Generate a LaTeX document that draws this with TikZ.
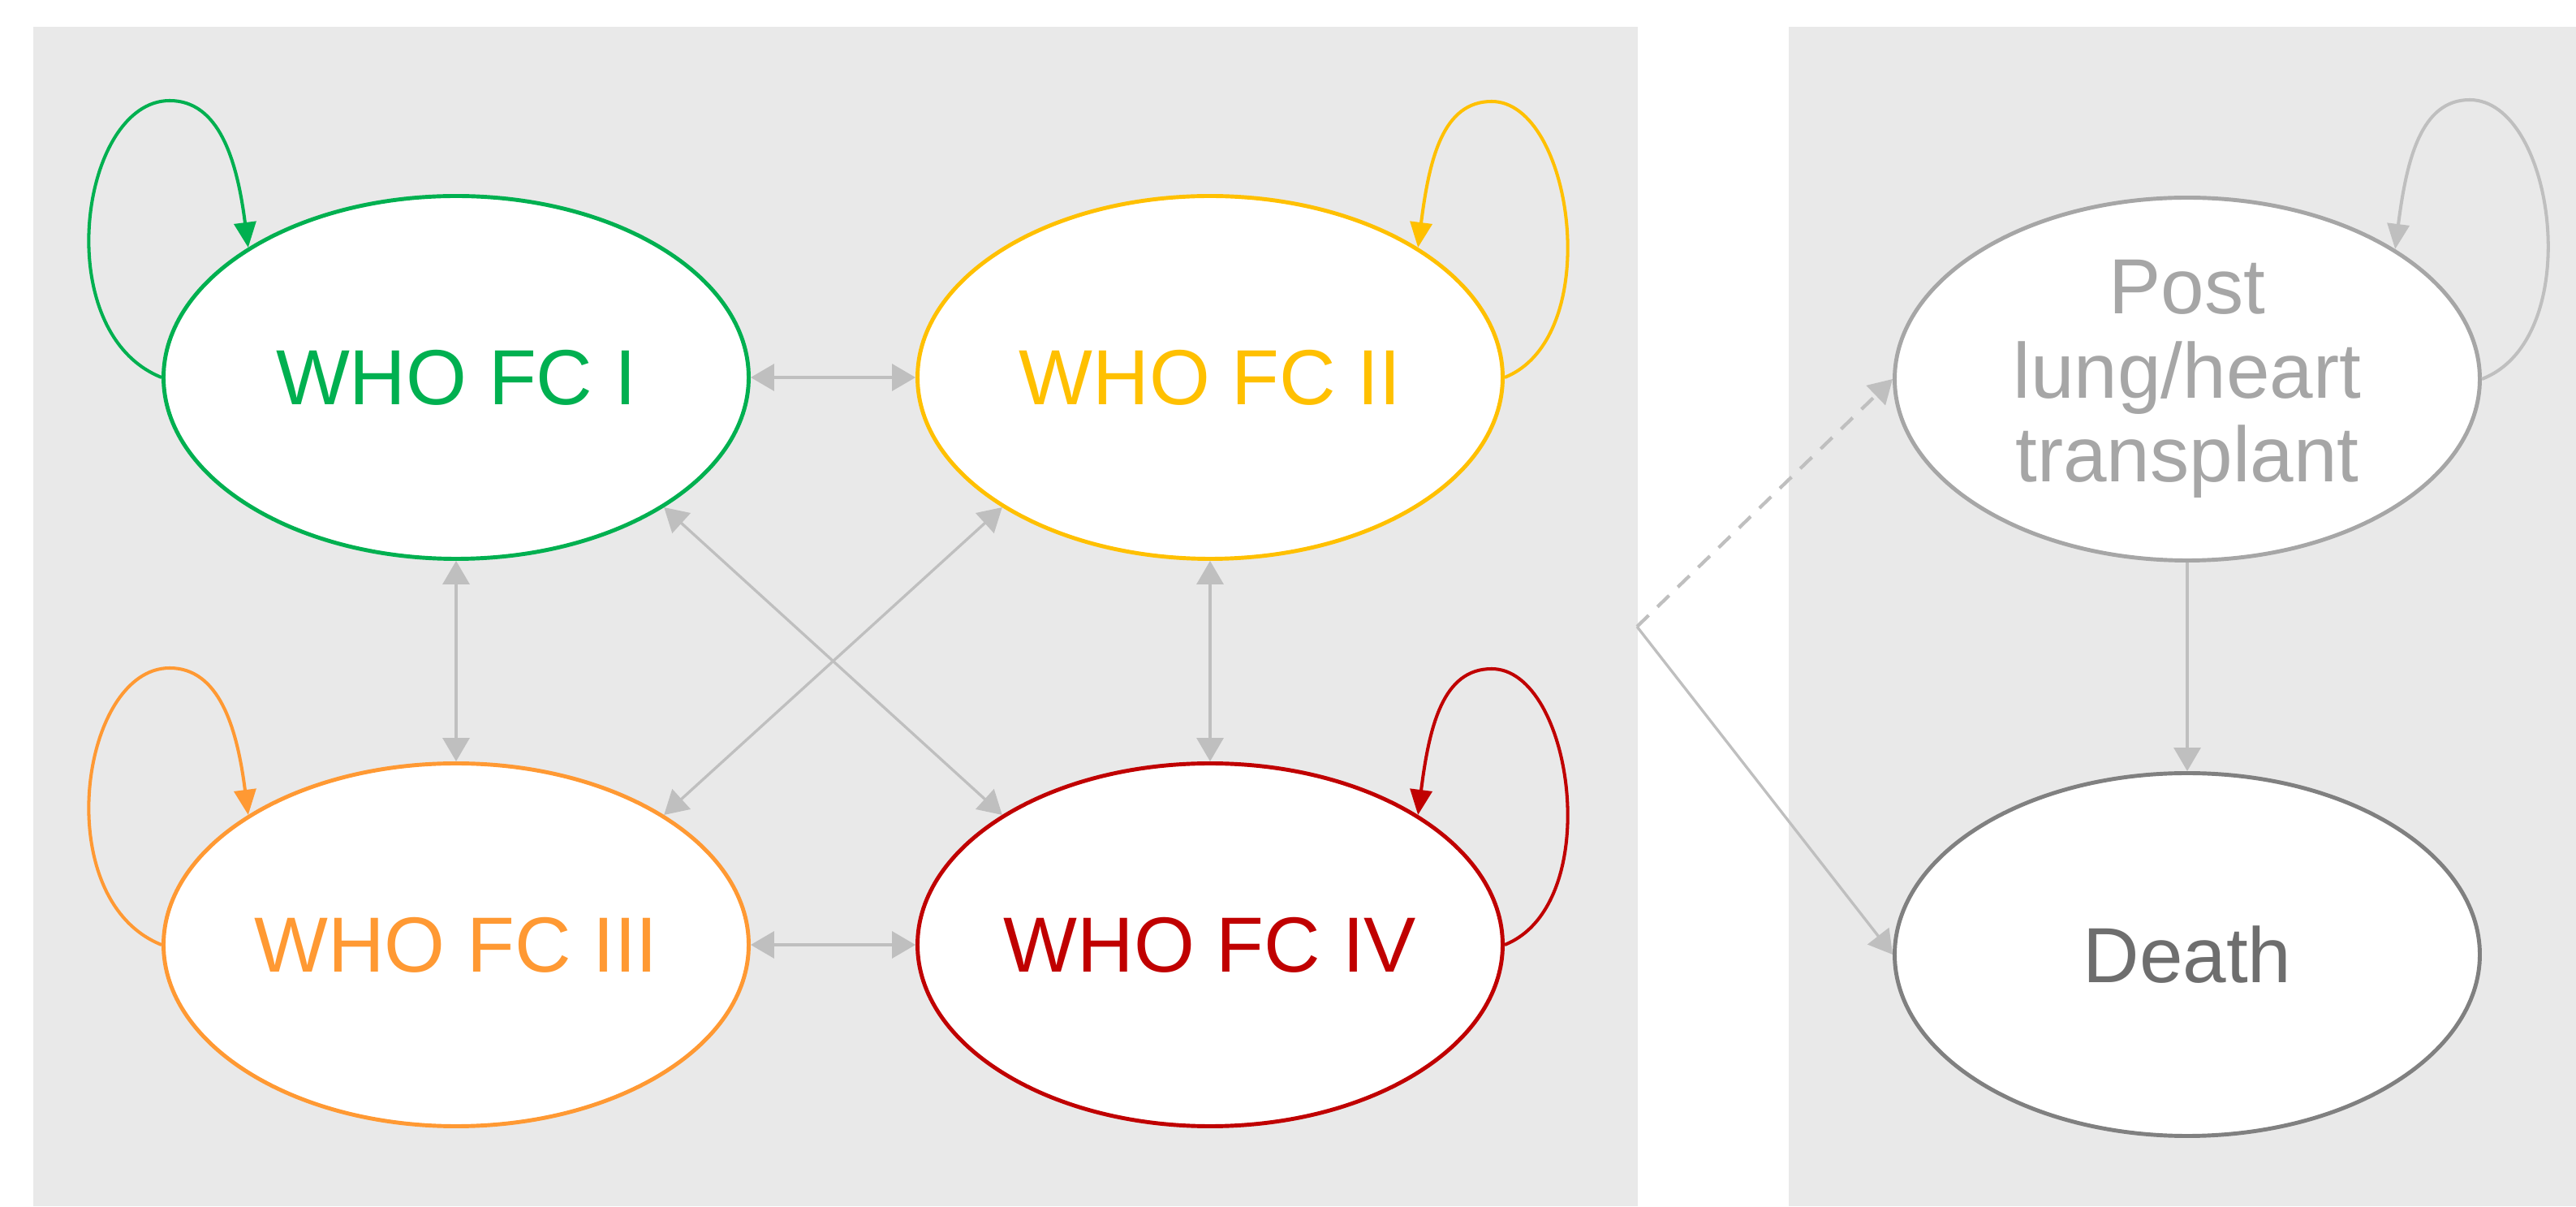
\documentclass[tikz,border=0pt]{standalone}
\usepackage{fontspec}
\setmainfont{Liberation Sans}
\usetikzlibrary{shapes.geometric,arrows.meta}

\definecolor{panelgray}{HTML}{E9E9E9}
\definecolor{fcone}{HTML}{00B050}
\definecolor{fctwo}{HTML}{FFC000}
\definecolor{fcthree}{HTML}{FF9933}
\definecolor{fcfour}{HTML}{C00000}
\definecolor{linkgray}{HTML}{BFBFBF}
\definecolor{postgray}{HTML}{A6A6A6}
\definecolor{deathline}{HTML}{808080}
\definecolor{deathtext}{HTML}{6E6E6E}

\begin{document}
\begin{tikzpicture}[
  fcstate/.style={ellipse, draw, fill=white, line width=1.4pt, minimum width=7.21cm,
    minimum height=4.47cm, inner sep=0pt, align=center,
    font=\fontsize{27.4}{29.4}\selectfont},
  twoway/.style={draw=linkgray, line width=0.95pt,
    {Triangle[length=2.9mm,width=3.3mm]}-{Triangle[length=2.9mm,width=3.3mm]}},
  oneway/.style={draw=linkgray, line width=0.95pt, -{Triangle[length=2.9mm,width=3.3mm]}},
  selfloop/.style={line width=1.15pt, -{Triangle[length=3.1mm,width=2.7mm]}}
]

\useasboundingbox (0,0) rectangle (31.74,14.86);
\fill[panelgray] (0.41,0) rectangle (20.18,14.53);
\fill[panelgray] (22.04,0) rectangle (31.74,14.53);

% states
\node[fcstate, draw=fcone, text=fcone] (I) at (5.62,10.21) {WHO FC I};
\node[fcstate, draw=fctwo, text=fctwo] (II) at (14.91,10.21) {WHO FC II};
\node[fcstate, draw=fcthree, text=fcthree] (III) at (5.62,3.22) {WHO FC III};
\node[fcstate, draw=fcfour, text=fcfour] (IV) at (14.91,3.22) {WHO FC IV};
\node[fcstate, draw=postgray, text=postgray] (post) at (26.95,10.19) {Post\\lung/heart\\transplant};
\node[fcstate, draw=deathline, text=deathtext] (death) at (26.95,3.10) {Death};
\coordinate (split) at (20.17,7.14);

% tops of the self loops
\path (I.west) ++(0.10,3.41) coordinate (Itop);
\path (II.east) ++(-0.16,3.40) coordinate (IItop);
\path (III.west) ++(0.10,3.41) coordinate (IIItop);
\path (IV.east) ++(-0.16,3.40) coordinate (IVtop);
\path (post.east) ++(-0.15,3.44) coordinate (posttop);

% self loops
\draw[selfloop, fcone] (I.west) .. controls +(-1.4,0.56) and +(-1.1,0) .. (Itop)
  .. controls +(0.6,0) and +(-0.14,1.1) .. (I.148);
\draw[selfloop, fctwo] (II.east) .. controls +(1.25,0.5) and +(1.0,0) .. (IItop)
  .. controls +(-0.6,0) and +(0.14,1.1) .. (II.32);
\draw[selfloop, fcthree] (III.west) .. controls +(-1.4,0.56) and +(-1.1,0) .. (IIItop)
  .. controls +(0.6,0) and +(-0.14,1.1) .. (III.148);
\draw[selfloop, fcfour] (IV.east) .. controls +(1.25,0.5) and +(1.0,0) .. (IVtop)
  .. controls +(-0.6,0) and +(0.14,1.1) .. (IV.32);
\draw[selfloop, linkgray] (post.east) .. controls +(1.3,0.5) and +(1.05,0) .. (posttop)
  .. controls +(-0.6,0) and +(0.14,1.1) .. (post.32);

% transitions
\draw[twoway] (I.east) -- (II.west);
\draw[twoway] (III.east) -- (IV.west);
\draw[twoway] (I.south) -- (III.north);
\draw[twoway] (II.south) -- (IV.north);
\draw[twoway] (I.-32) -- (IV.148);
\draw[twoway] (II.212) -- (III.32);
\draw[oneway, line width=1.2pt, dash pattern=on 2mm off 1.5mm] (split) -- (post.west);
\draw[oneway] (split) -- (death.west);
\draw[oneway] (post.south) -- (death.north);

\end{tikzpicture}
\end{document}
